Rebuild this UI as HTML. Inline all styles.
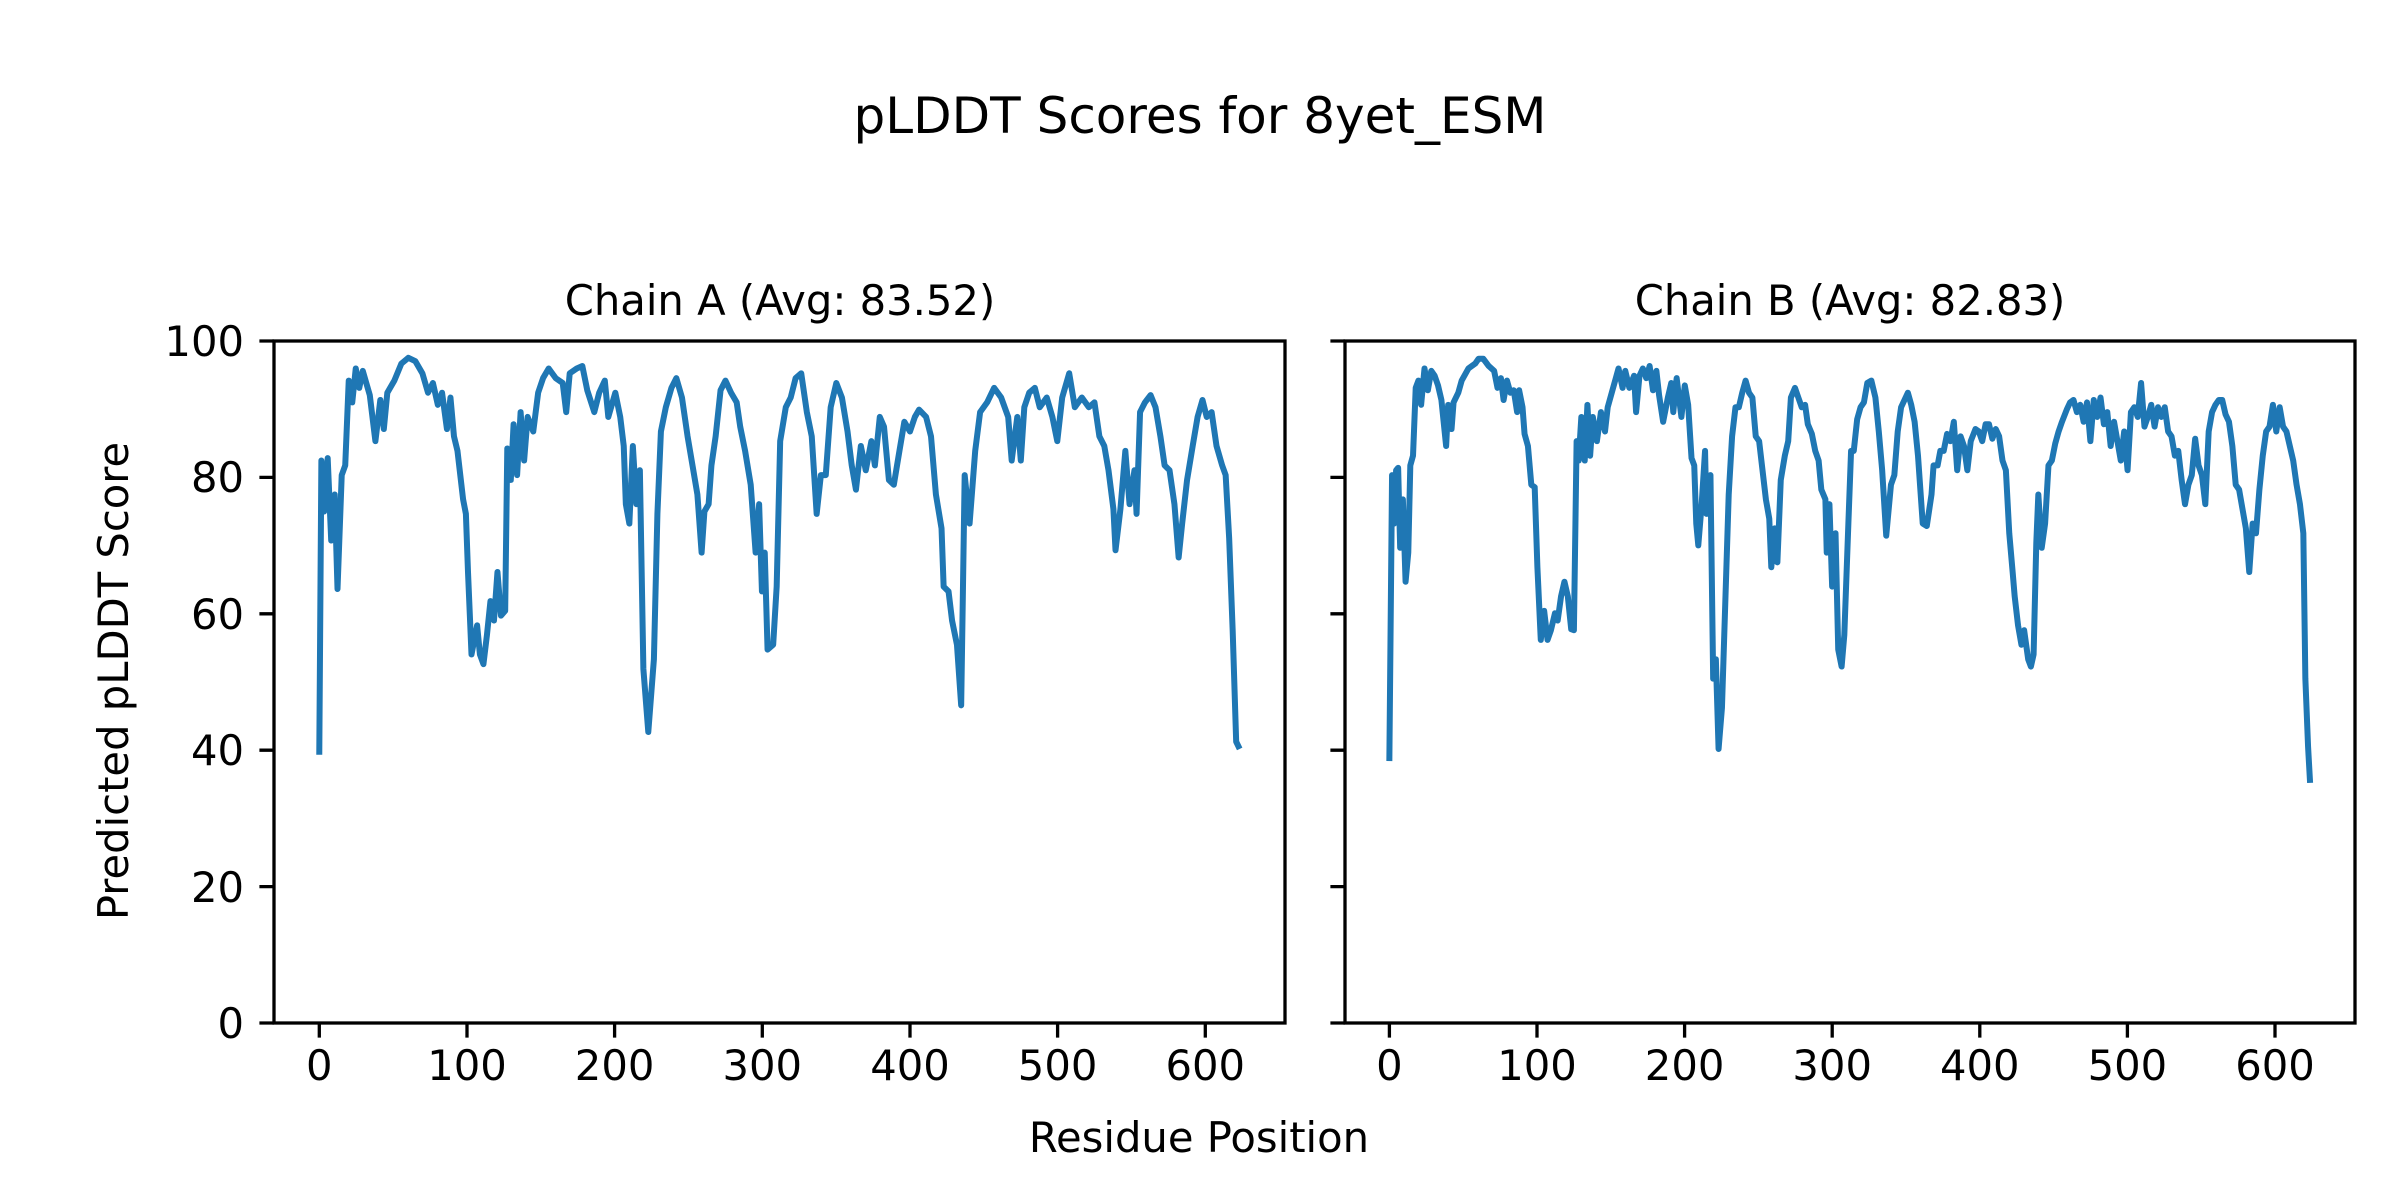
<!DOCTYPE html>
<html><head><meta charset="utf-8"><style>
html,body{margin:0;padding:0;background:#fff;}
body{width:2400px;height:1200px;position:relative;overflow:hidden;font-family:"DejaVu Sans","Liberation Sans",sans-serif;}
</style></head><body>
<svg width="2400" height="1200" style="position:absolute;left:0;top:0" font-family="DejaVu Sans, Liberation Sans, sans-serif">
<text x="1200" y="133" font-size="50" text-anchor="middle">pLDDT Scores for 8yet_ESM</text>
<text x="780" y="315" font-size="41.7" text-anchor="middle">Chain A (Avg: 83.52)</text>
<text x="1850" y="315" font-size="41.7" text-anchor="middle">Chain B (Avg: 82.83)</text>
<text x="1199" y="1152" font-size="41.7" text-anchor="middle">Residue Position</text>
<text transform="translate(128,681) rotate(-90)" font-size="41.7" text-anchor="middle">Predicted pLDDT Score</text>
<g stroke="#000" stroke-width="3.3" fill="none">
<rect x="274" y="341" width="1011" height="682"/>
<rect x="1345" y="341" width="1010" height="682"/>
<!-- y ticks -->
<path d="M274 341h-14.6M274 477.4h-14.6M274 613.8h-14.6M274 750.2h-14.6M274 886.6h-14.6M274 1023h-14.6"/>
<path d="M1345 341h-14.6M1345 477.4h-14.6M1345 613.8h-14.6M1345 750.2h-14.6M1345 886.6h-14.6M1345 1023h-14.6"/>
<!-- x ticks -->
<path d="M319.3 1023v14.6M467 1023v14.6M614.6 1023v14.6M762.3 1023v14.6M910 1023v14.6M1057.6 1023v14.6M1205.3 1023v14.6"/>
<path d="M1389.4 1023v14.6M1537 1023v14.6M1684.6 1023v14.6M1832.2 1023v14.6M1979.8 1023v14.6M2127.4 1023v14.6M2275 1023v14.6"/>
</g>
<g font-size="41.7" text-anchor="end">
<text x="244" y="356">100</text><text x="244" y="492">80</text><text x="244" y="629">60</text>
<text x="244" y="765">40</text><text x="244" y="902">20</text><text x="244" y="1038">0</text>
</g>
<g font-size="41.7" text-anchor="middle">
<text x="319.3" y="1080">0</text><text x="467" y="1080">100</text><text x="614.6" y="1080">200</text><text x="762.3" y="1080">300</text><text x="910" y="1080">400</text><text x="1057.6" y="1080">500</text><text x="1205.3" y="1080">600</text>
<text x="1389.4" y="1080">0</text><text x="1537" y="1080">100</text><text x="1684.6" y="1080">200</text><text x="1832.2" y="1080">300</text><text x="1979.8" y="1080">400</text><text x="2127.4" y="1080">500</text><text x="2275" y="1080">600</text>
</g>
</svg>
<svg style="position:absolute;left:240px;top:320px" width="1100" height="760" viewBox="0 0 1568 1568" preserveAspectRatio="none">
<polyline fill="none" stroke="#1f77b4" stroke-width="6" stroke-linejoin="round" vector-effect="non-scaling-stroke" points="113,897 116,290 120,395 125,285 130,455 135,360 139,555 145,320 150,300 155,125 160,170 165,100 170,140 175,105 185,155 193,250 200,165 205,225 210,150 220,125 230,90 240,78 250,85 260,110 268,150 275,130 282,175 288,150 295,225 300,160 305,240 310,270 318,370 322,400 325,520 330,690 338,630 342,690 347,710 352,650 357,580 362,620 367,520 372,610 378,600 381,265 386,330 390,215 395,320 400,190 405,290 410,200 418,230 425,150 432,120 440,100 450,120 460,130 465,190 470,110 480,100 488,95 495,145 505,190 512,150 520,125 525,200 535,150 542,200 547,260 550,380 555,420 560,260 565,380 570,310 575,720 582,850 590,700 595,400 600,230 607,180 615,140 622,120 630,160 638,240 645,300 652,360 658,480 662,395 668,380 672,300 678,240 685,145 692,125 700,150 708,170 713,220 720,270 728,340 735,480 740,380 744,560 748,480 752,680 760,670 765,550 770,250 778,180 785,160 792,120 800,110 808,190 815,240 822,400 828,320 835,320 842,180 850,130 858,160 866,230 872,300 878,350 885,260 892,310 900,250 905,300 912,200 918,220 925,330 932,340 940,270 947,210 955,230 962,200 968,185 978,200 985,240 992,360 1000,430 1003,550 1010,560 1015,620 1022,670 1028,795 1033,320 1040,420 1048,270 1055,190 1065,170 1075,140 1085,160 1095,200 1100,290 1108,200 1113,290 1118,180 1125,150 1133,140 1140,180 1150,160 1158,200 1165,250 1172,160 1182,110 1190,180 1200,160 1210,180 1218,170 1225,240 1232,260 1238,310 1245,390 1248,475 1255,390 1262,270 1268,380 1275,310 1278,400 1283,190 1290,170 1298,155 1305,180 1312,240 1318,300 1325,310 1332,380 1338,490 1343,420 1350,330 1358,260 1365,200 1372,165 1378,200 1385,190 1392,260 1400,300 1405,320 1410,450 1415,640 1420,870 1425,885"/>
</svg>
<svg style="position:absolute;left:1340px;top:320px" width="1060" height="760" viewBox="0 0 1568 1568" preserveAspectRatio="none">
<polyline fill="none" stroke="#1f77b4" stroke-width="6" stroke-linejoin="round" vector-effect="non-scaling-stroke" points="73,910 77,320 80,420 83,310 86,305 89,470 93,370 97,540 101,480 104,300 108,280 112,140 116,125 120,175 125,100 130,145 135,105 140,115 145,135 150,165 157,260 160,175 165,225 168,170 175,150 180,125 190,100 200,90 205,80 212,80 220,95 228,105 233,140 238,120 242,165 247,125 252,150 257,145 262,190 265,145 270,180 273,235 278,260 283,340 288,345 292,510 297,660 302,600 307,660 312,640 318,605 322,620 327,570 332,540 337,570 342,638 346,640 350,250 353,290 357,200 362,290 366,175 370,280 374,200 380,250 386,190 392,230 396,180 402,150 408,120 412,100 418,140 422,105 428,140 435,115 438,190 443,115 448,100 453,120 458,95 463,145 468,105 472,155 478,210 485,160 490,130 493,190 498,120 505,200 510,135 515,175 520,285 524,300 527,420 530,465 535,380 540,270 542,400 548,320 552,740 556,700 560,885 565,800 570,580 575,360 580,240 585,180 590,180 595,150 600,125 605,150 610,160 615,240 620,250 625,310 630,370 635,410 638,510 643,430 647,500 652,330 658,280 663,250 667,160 673,140 678,160 683,180 688,175 692,215 698,235 703,270 708,290 712,350 718,370 720,480 724,380 728,550 733,440 737,680 742,715 746,650 752,420 756,270 760,270 765,205 770,180 775,170 780,130 786,125 792,160 797,230 802,310 808,445 815,340 820,320 825,230 830,180 835,165 840,150 845,175 850,210 855,280 862,420 868,425 875,360 878,300 884,300 888,270 893,270 898,235 903,250 908,210 913,310 918,240 923,260 928,310 933,250 940,225 945,230 950,250 955,215 960,215 965,245 970,225 975,240 980,290 985,310 990,440 995,520 998,570 1003,630 1008,670 1012,640 1018,700 1022,715 1026,690 1030,460 1033,360 1038,470 1043,420 1048,300 1053,290 1058,255 1063,230 1068,210 1075,185 1080,170 1085,165 1090,190 1095,175 1100,210 1105,170 1110,250 1115,165 1120,200 1125,160 1130,215 1135,190 1140,260 1145,210 1150,250 1155,290 1160,230 1165,310 1170,190 1175,180 1180,200 1185,130 1190,220 1195,200 1200,175 1205,220 1210,180 1215,200 1220,180 1225,230 1230,240 1235,280 1240,270 1245,330 1250,380 1255,340 1260,320 1265,245 1270,300 1275,320 1280,380 1285,230 1290,190 1295,175 1300,165 1305,165 1310,195 1315,210 1320,260 1325,340 1330,350 1335,390 1340,430 1345,520 1350,420 1355,440 1360,350 1365,280 1370,230 1375,220 1380,175 1385,230 1390,180 1395,220 1400,230 1405,260 1410,290 1415,340 1420,380 1425,440 1428,740 1432,880 1435,955"/>
</svg>
</body></html>
